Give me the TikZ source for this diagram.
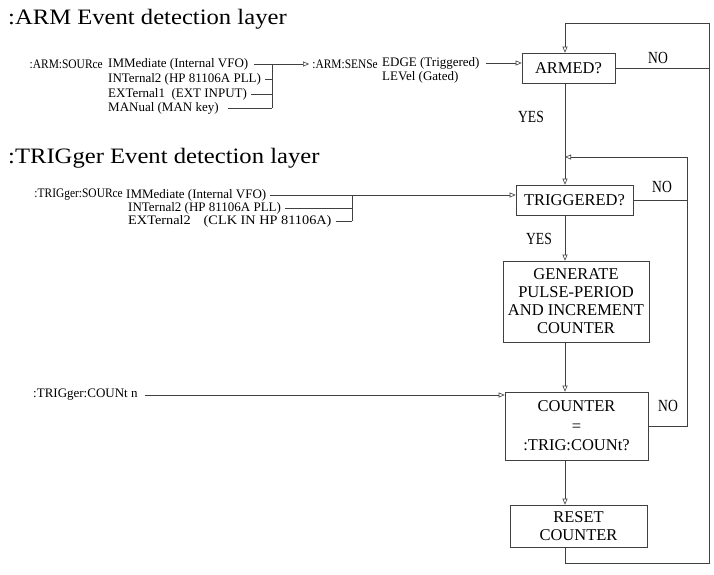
\documentclass[tikz,border=0pt]{standalone}
\usepackage{fontspec}
\setmainfont{Liberation Serif}
\newfontfamily\titlefont[FakeStretch=1.12]{Liberation Serif}
\newfontfamily\labfont[FakeStretch=0.8]{Liberation Serif}
\newfontfamily\widefont[FakeStretch=1.1]{Liberation Serif}
\newfontfamily\narrowfont[FakeStretch=0.88]{Liberation Serif}
\usetikzlibrary{arrows.meta}
\begin{document}
\begin{tikzpicture}[x=1pt,y=-1pt,
  txt/.style={anchor=west,inner sep=1pt,font=\fontsize{13}{15}\selectfont},
  ntxt/.style={txt,anchor=east,font=\narrowfont\fontsize{13}{15}\selectfont},
  ttl/.style={anchor=base west,inner sep=0pt,font=\titlefont\fontsize{22}{26}\selectfont},
  lab/.style={inner sep=0pt,font=\labfont\fontsize{17}{20}\selectfont},
  box/.style={draw=black!75,line width=0.6pt,inner sep=0pt,align=center,font=\fontsize{16.5}{18}\selectfont},
  ln/.style={draw=black!75,line width=0.6pt},
  arr/.style={ln,-{Triangle[open,length=6pt,width=5pt]}}
]
\useasboundingbox (0,0) rectangle (714,574);

% titles
\node[ttl] (armtitle) at (8,24) {:ARM Event detection layer};
\node[ttl] (trigtitle) at (8,163) {:TRIGger Event detection layer};

% ARM source
\node[ntxt] (asrc) at (104,64) {:ARM:SOURce};
\node[txt] (a1) at (107,64) {IMMediate (Internal VFO)};
\node[txt] (a2) at (107,79) {INTernal2 (HP 81106A PLL)};
\node[txt] (a3) at (107,94) {EXTernal1\ \ (EXT INPUT)};
\node[txt] (a4) at (107,108) {MANual (MAN key)};
\coordinate (jA) at (272,64);

% ARM sense
\node[ntxt] (sense) at (379,64) {:ARM:SENSe};
\node[txt,inner sep=0pt] (edge) at (382,63) {EDGE (Triggered)};
\node[txt,inner sep=0pt] (level) at (382,77) {LEVel (Gated)};

% TRIG source
\node[ntxt] (tsrc) at (124,195) {:TRIGger:SOURce};
\node[txt] (t1) at (125,195) {IMMediate (Internal VFO)};
\node[txt] (t2) at (127,208) {INTernal2 (HP 81106A PLL)};
\node[txt,font=\widefont\fontsize{13}{15}\selectfont] (t3) at (127,221) {EXTernal2\hspace{13pt}(CLK IN HP 81106A)};
\coordinate (jT) at (352,195);

% TRIG count
\node[txt] (cnt) at (32,395) {:TRIGger:COUNt n};

% boxes
\node[box,minimum width=93pt,minimum height=30pt] (armed) at (568.5,68) {ARMED?};
\node[box,minimum width=117pt,minimum height=30pt] (trig) at (574.5,200) {TRIGGERED?};
\node[box,minimum width=146pt,minimum height=81pt] (gen) at (576,301.5) {GENERATE\\PULSE-PERIOD\\AND INCREMENT\\COUNTER};
\node[box,minimum width=143pt,minimum height=68pt,font=\fontsize{16.5}{19.5}\selectfont] (counter) at (576.5,426) {COUNTER\\=\\:TRIG:COUNt?};
\node[box,minimum width=137pt,minimum height=42pt] (reset) at (578.5,526) {RESET\\COUNTER};

% labels
\node[lab] (no1) at (658,58) {NO};
\node[lab] (yes1) at (531,117) {YES};
\node[lab] (no2) at (662,187) {NO};
\node[lab] (yes2) at (539,239) {YES};
\node[lab] (no3) at (668,406) {NO};

% helper coordinates
\coordinate (col) at (565,0);
\coordinate (tl) at (565,23);
\coordinate (tr) at (709,23);
\coordinate (br) at (709,563);
\coordinate (bl) at (565,563);
\coordinate (r2t) at (687,157);

% ARM source connectors
\draw[arr,shorten <=5pt,shorten >=2pt] (a1.east) -- (sense.west);
\draw[ln,shorten <=3pt] (a2.east) -- (a2.east -| jA);
\draw[ln,shorten <=3pt] (a3.east) -- (a3.east -| jA);
\draw[ln,shorten <=8pt] (a4.east) -- (a4.east -| jA);
\draw[ln] (jA) -- (jA |- a4.east);
\draw[arr,shorten <=6pt] (edge.east) -- (edge.east -| armed.west);

% TRIG source connectors
\draw[arr,shorten <=3pt] (t1.east) -- (t1.east -| trig.west);
\draw[ln,shorten <=3pt] (t2.east) -- (t2.east -| jT);
\draw[ln,shorten <=3pt] (t3.east) -- (t3.east -| jT);
\draw[ln] (jT) -- (jT |- t3.east);

% count connector
\draw[arr,shorten <=6pt] (cnt.east) -- (cnt.east -| counter.west);

% main column
\draw[arr] (armed.south -| col) -- (trig.north -| col);
\draw[arr] (trig.south -| col) -- (gen.north -| col);
\draw[arr] (gen.south -| col) -- (counter.north -| col);
\draw[arr] (counter.south -| col) -- (reset.north -| col);

% outer loop
\draw[arr] (reset.south -| col) -- (bl) -- (br) -- (tr) -- (tl) -- (armed.north -| col);
\draw[ln] (armed.east) -- (armed.east -| tr);

% inner loop
\draw[arr] (counter.east) -- (counter.east -| r2t) -- (r2t) -- (r2t -| col);
\draw[ln] (trig.east) -- (trig.east -| r2t);
\end{tikzpicture}
\end{document}
